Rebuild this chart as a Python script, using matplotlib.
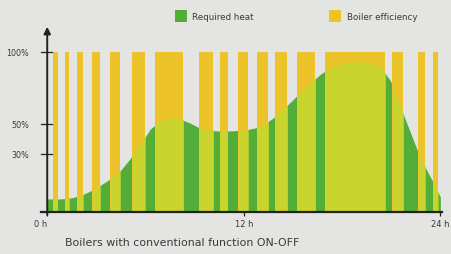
import numpy as np
import matplotlib
matplotlib.use("Agg")
import matplotlib.pyplot as plt
from matplotlib.patches import Rectangle

# boiler ON periods (hours)
bar_on = [0.37, 1.10, 1.83, 2.75, 3.85, 5.19, 6.60, 9.28, 10.56, 11.66,
          12.82, 13.92, 15.27, 16.98, 21.07, 22.66, 23.56]
bar_off = [0.67, 1.34, 2.20, 3.24, 4.46, 5.98, 8.31, 10.14, 11.05, 12.27,
           13.50, 14.66, 16.37, 20.64, 21.74, 23.08, 23.86]
bar_level = 100

# required heat curve (% of max)
hours = [0, 0.8, 1.4, 2.0, 2.9, 3.85, 4.45, 5.05, 5.7, 6.3, 6.9, 7.5, 8.1,
         8.7, 9.3, 10.3, 11.2, 12.1, 13.0, 13.9, 14.8, 15.8, 16.7, 17.6,
         18.5, 19.4, 20.3, 20.95, 21.85, 22.8, 23.55, 24]
heat = [6.7, 6.7, 7.2, 8.3, 11.9, 17.1, 21.2, 27.4, 36.7, 46.7, 52.1, 54.2,
        53.4, 50.7, 47.3, 45.3, 45.3, 46, 48, 54.9, 64.6, 75.7, 84.7, 91,
        93, 93, 90.3, 80, 53.4, 27.4, 15.5, 7.8]

yticks = [100, 50, 30]
ytick_labels = ["100%", "50%", "30%"]
xticks = [0, 12, 24]
xtick_labels = ["0 h", "12 h", "24 h"]

bg = "#e4e4e2"
yellow = "#ecc42a"
green = "#52ae38"
mix = "#c9d52e"
dark = "#222222"
txt = "#3a3a3a"

# drawing's vertical axis is not linear between the tick marks
def fwd(v):
    return np.interp(v, [0, 30, 50, 100, 200], [0, 36.25, 55, 100, 190])

def inv(v):
    return np.interp(v, [0, 36.25, 55, 100, 190], [0, 30, 50, 100, 200])

fig = plt.figure(figsize=(4.51, 2.55), dpi=100, facecolor=bg)
ax = fig.add_axes([0.092, 0.165, 0.888, 0.737])
ax.set_facecolor(bg)
ax.set_yscale('function', functions=(fwd, inv))

ax.fill_between(hours, 0, heat, color=green, lw=0, zorder=1)
widths = [b - a for a, b in zip(bar_on, bar_off)]
ax.bar(bar_on, bar_level, width=widths, align='edge', color=yellow, lw=0, zorder=2)
for a, b in zip(bar_on, bar_off):
    xs = np.linspace(a, b, 30)
    ax.fill_between(xs, 0, np.interp(xs, hours, heat), color=mix, lw=0, zorder=3)

ax.set_xlim(-0.35, 24.1)
ax.set_ylim(0, 119.4)

for s in ['top', 'right', 'left']:
    ax.spines[s].set_visible(False)
ax.spines['bottom'].set_color(dark)
ax.spines['bottom'].set_linewidth(1.6)
ax.spines['bottom'].set_zorder(5)

# y axis with arrow
ax.annotate("", xy=(0, 1.0), xytext=(0, -0.03),
            xycoords=ax.get_xaxis_transform(), textcoords=ax.get_xaxis_transform(),
            arrowprops=dict(arrowstyle='-|>', color=dark, lw=1.4,
                            mutation_scale=10), zorder=6)
for v in yticks:
    ax.plot([-0.38, 0.3], [v, v], color=dark, lw=0.9, zorder=6, clip_on=False)

ax.set_yticks(yticks)
ax.set_yticklabels(ytick_labels, fontsize=5.8, color=txt)
ax.tick_params(axis='y', length=0, pad=9)
ax.set_xticks(xticks)
ax.set_xticklabels(xtick_labels, fontsize=6, color=txt)
ax.tick_params(axis='x', length=3, width=0.9, color=dark, pad=2)
ax.get_xticklabels()[0].set_horizontalalignment('right')

# legend
fig.add_artist(Rectangle((0.388, 0.910), 0.0266, 0.047, transform=fig.transFigure,
                         color=green, lw=0))
fig.text(0.426, 0.933, "Required heat", fontsize=6.3, color=txt, va='center')
fig.add_artist(Rectangle((0.729, 0.910), 0.0266, 0.047, transform=fig.transFigure,
                         color=yellow, lw=0))
fig.text(0.769, 0.933, "Boiler efficiency", fontsize=6.3, color=txt, va='center')

fig.text(0.144, 0.047, "Boilers with conventional function ON-OFF",
         fontsize=7.9, color=txt, va='center')

fig.savefig("out.png", dpi=100, facecolor=bg)
